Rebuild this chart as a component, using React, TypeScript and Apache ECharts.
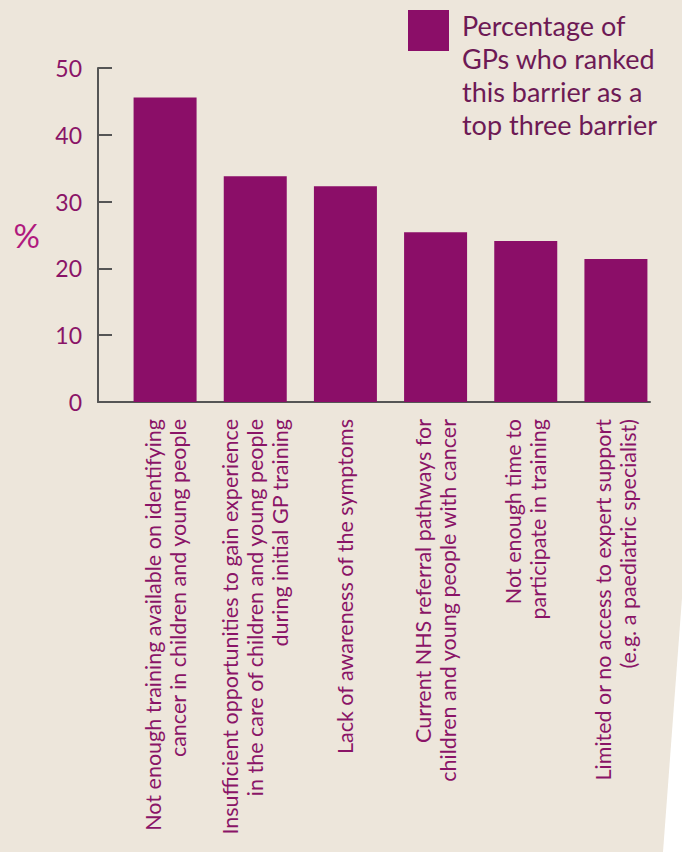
import React, { useEffect, useRef } from "react";
import * as echarts from "echarts";

const categories: string[] = [
  "Not enough training available on identifying\ncancer in children and young people",
  "Insufficient opportunities to gain experience\nin the care of children and young people\nduring initial GP training",
  "Lack of awareness of the symptoms",
  "Current NHS referral pathways for\nchildren and young people with cancer",
  "Not enough time to\nparticipate in training",
  "Limited or no access to expert support\n(e.g. a paediatric specialist)",
];
const values: number[] = [45.6, 33.8, 32.3, 25.4, 24.1, 21.4];
const legendText = "Percentage of\nGPs who ranked\nthis barrier as a\ntop three barrier";

const BAR = "#8b0e68";
const LABEL = "#8a1467";
const AXIS = "#555555";
const FONT = "Lato, 'Noto Sans', sans-serif";

export default function App() {
  const ref = useRef<HTMLDivElement>(null);
  useEffect(() => {
    document.body.style.margin = "0";
    const chart = echarts.init(ref.current!, null, { renderer: "svg" });
    chart.setOption({
      animation: false,
      backgroundColor: "#ede6db",
      textStyle: { fontFamily: FONT },
      grid: [
        { left: 120, right: 21, top: 68, bottom: 450, outerBoundsMode: "none", containLabel: false },
        { left: 98, right: 32, top: 68, bottom: 450, outerBoundsMode: "none", containLabel: false },
      ],
      xAxis: [
        {
          type: "category",
          gridIndex: 0,
          data: categories,
          axisLine: { show: false },
          axisTick: { show: false },
          axisLabel: {
            rotate: 90,
            margin: 17,
            interval: 0,
            color: LABEL,
            fontSize: 21.5,
            lineHeight: 25,
            fontFamily: FONT,
          },
        },
        {
          type: "value",
          gridIndex: 1,
          min: 0,
          max: 1,
          axisLine: { show: true, lineStyle: { color: AXIS, width: 2 } },
          axisTick: { show: false },
          axisLabel: { show: false },
          splitLine: { show: false },
        },
      ],
      yAxis: [
        {
          type: "value",
          gridIndex: 0,
          min: 0,
          max: 50,
          interval: 10,
          show: false,
        },
        {
          type: "value",
          gridIndex: 1,
          min: 0,
          max: 50,
          interval: 10,
          name: "%",
          nameLocation: "middle",
          nameGap: 58,
          nameRotate: 0,
          nameTextStyle: { color: "#b0197e", fontSize: 33, fontFamily: FONT },
          axisLine: { show: true, lineStyle: { color: AXIS, width: 2 } },
          axisTick: { show: true, inside: true, length: 14, lineStyle: { color: AXIS, width: 2 } },
          axisLabel: { color: LABEL, fontSize: 23, margin: 16, padding: [8, 0, 0, 0], fontFamily: FONT },
          splitLine: { show: false },
        },
      ],
      series: [
        {
          type: "bar",
          xAxisIndex: 0,
          yAxisIndex: 0,
          data: values,
          barWidth: 63,
          itemStyle: { color: BAR },
        },
      ],
      graphic: [
        {
          type: "polygon",
          shape: { points: [[682, 598], [682, 852], [663, 852]] },
          style: { fill: "#ffffff" },
        },
        {
          type: "rect",
          shape: { x: 408, y: 10, width: 41, height: 41 },
          style: { fill: BAR },
        },
        {
          type: "text",
          x: 462,
          y: 9,
          style: {
            text: legendText,
            fill: "#6d1a55",
            fontSize: 27,
            lineHeight: 33,
            fontFamily: FONT,
            verticalAlign: "top",
            align: "left",
          },
        },
      ],
    });
    return () => chart.dispose();
  }, []);
  return <div ref={ref} style={{ width: 682, height: 852 }} />;
}
